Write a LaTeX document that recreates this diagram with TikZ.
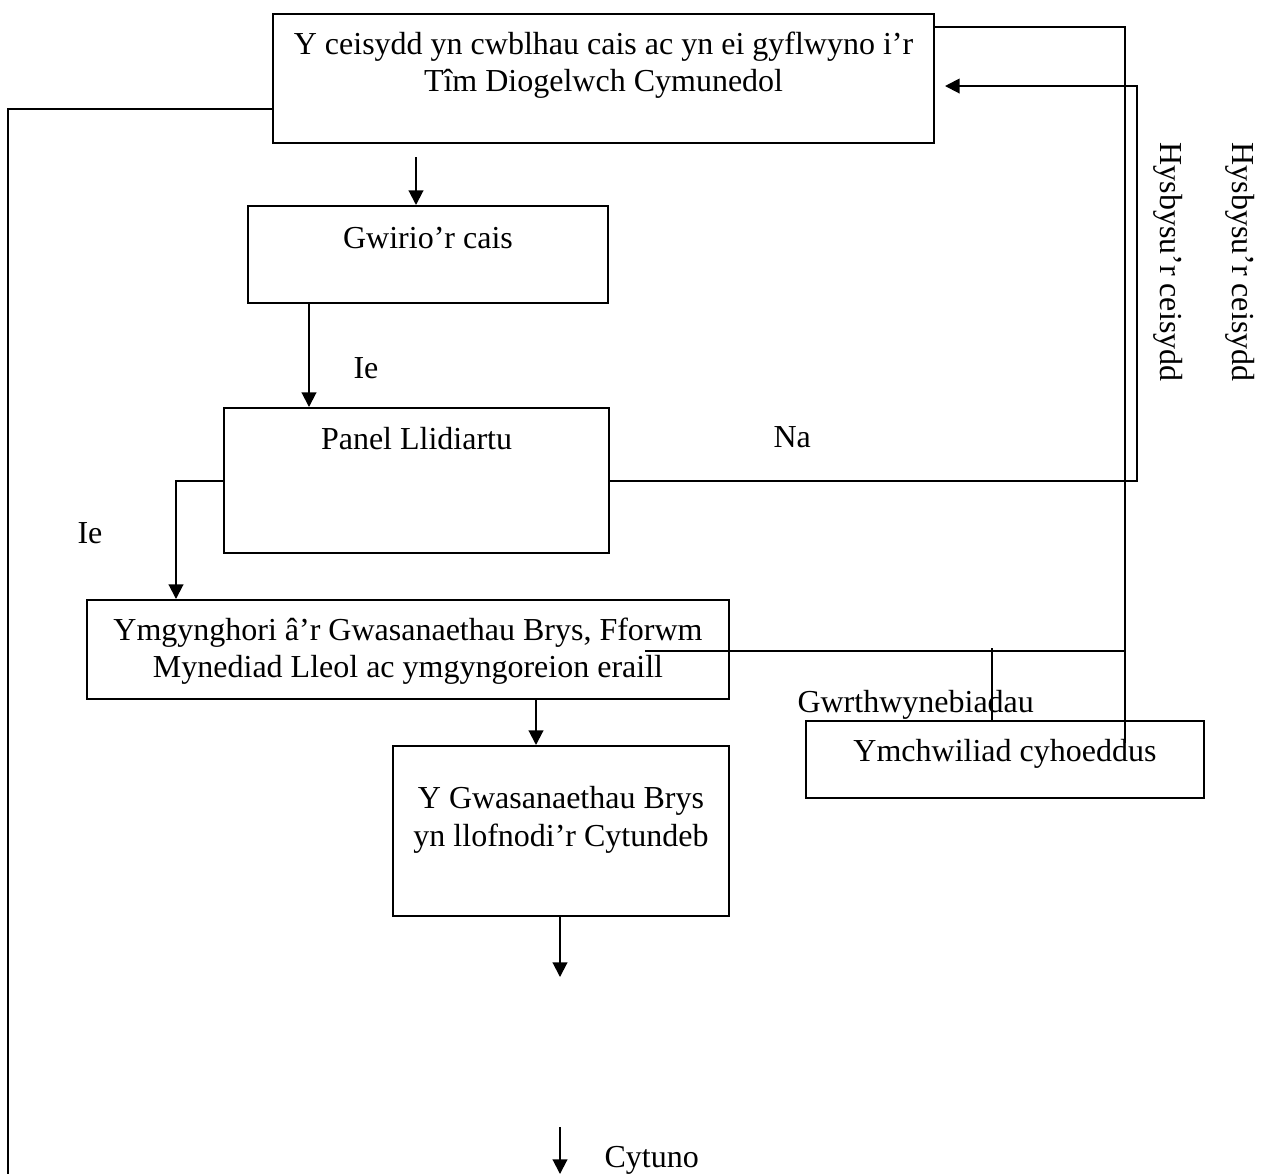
\documentclass[tikz,border=0pt]{standalone}
\usepackage{fontspec}
\setmainfont{Liberation Serif}
\usetikzlibrary{arrows.meta}

\begin{document}
\begin{tikzpicture}[x=0.375pt, y=-0.375pt,
        font=\fontsize{12}{13.9}\selectfont,
        line/.style={line width=0.75pt},
        arrow/.style={line width=0.75pt, -{Triangle[length=5.5pt, width=5.5pt]}},
        box/.style={draw, line width=0.75pt, anchor=north west, align=center,
            inner xsep=0pt, inner ysep=0pt},
        side/.style={anchor=base west, inner sep=0pt}]
    \useasboundingbox (0,0) rectangle (1261,1174);

    % boxes
    \node[box, minimum width=247.9pt, text height=28.9pt, text depth=19.5pt] (apply) at (272,13)
        {Y ceisydd yn cwblhau cais ac yn ei gyflwyno i’r\\Tîm Diogelwch Cymunedol};
    \node[box, minimum width=135pt, text height=15.75pt, text depth=20.6pt] (check) at (247,205)
        {Gwirio’r cais};
    \node[box, minimum width=144.4pt, text height=15.4pt, text depth=39pt] (gate) at (223,407)
        {Panel Llidiartu};
    \node[box, minimum width=240.75pt, text height=28.9pt, text depth=8.25pt] (consult) at (86,599)
        {Ymgynghori â’r Gwasanaethau Brys, Fforwm\\Mynediad Lleol ac ymgyngoreion eraill};
    \node[box, minimum width=126pt, text height=37.5pt, text depth=26.25pt] (agree) at (392,745)
        {Y Gwasanaethau Brys\\yn llofnodi’r Cytundeb};
    \node[box, minimum width=149.25pt, text height=15pt, text depth=13.9pt] (inquiry) at (805,720)
        {Ymchwiliad cyhoeddus};

    % labels
    \node[side] (ie1) at (353,378) {Ie};
    \node[side] (na) at (773,447) {Na};
    \node[side] (ie2) at (77,543) {Ie};
    \node[side] (objections) at (797,712) {Gwrthwynebiadau};
    \node[side] (agreed) at (604,1167) {Cytuno};
    \node[rotate=-90] (inform1) at (1168,262) {Hysbysu’r ceisydd};
    \node[rotate=-90] (inform2) at (1240,262) {Hysbysu’r ceisydd};

    % free ends
    \coordinate (a1) at (416,157);
    \coordinate (back) at (945,86);
    \coordinate (railend) at (1125,743);
    \coordinate (c1) at (645,651);
    \coordinate (c2) at (992,648);
    \coordinate (a3) at (560,977);
    \coordinate (a4) at (560,1127);
    \coordinate (a5) at (560,1174);
    \coordinate (leftend) at (8,1174);

    % connectors
    \draw[line] ([yshift=-11.6pt]apply.west) -| (leftend);
    \draw[arrow] (a1) -- (a1 |- check.north);
    \draw[arrow] (check.south -| 309,0) -- (gate.north -| 309,0);
    \draw[arrow] (gate.west) -| (consult.north -| 176,0);
    \draw[arrow] (gate.east) -| (back -| 1137,0) -- (back);
    \draw[line] ([yshift=-5.25pt]apply.north east) -| (railend);
    \draw[line] (c1) -- (c1 -| railend);
    \draw[line] (c2) -- (c2 |- inquiry.north);
    \draw[arrow] (consult.south -| 536,0) -- (agree.north -| 536,0);
    \draw[arrow] (a3 |- agree.south) -- (a3);
    \draw[arrow] (a4) -- (a5);
\end{tikzpicture}
\end{document}
